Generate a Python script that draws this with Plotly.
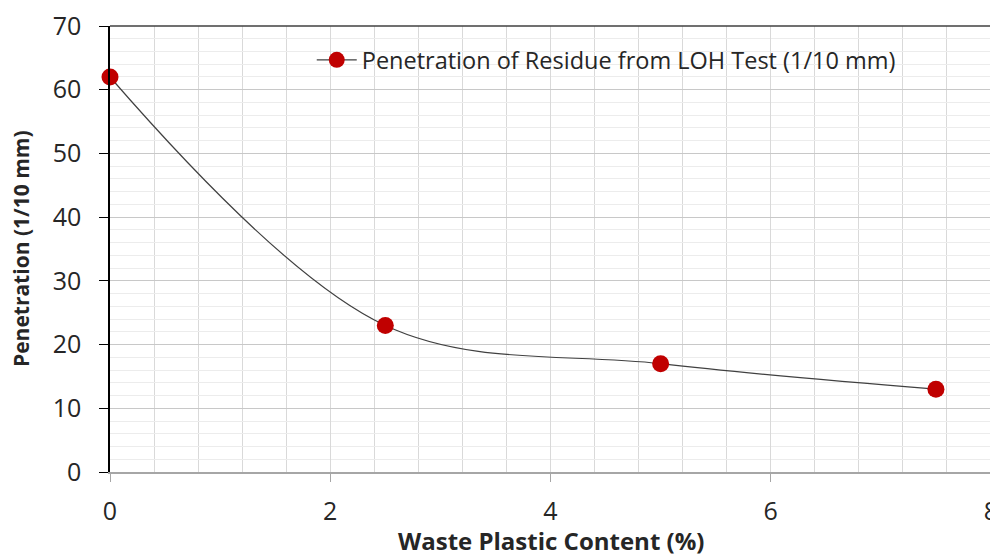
import plotly.graph_objects as go

plastic_content = [0, 2.5, 5, 7.5]
penetration = [62, 23, 17, 13]
series_name = "Penetration of Residue from LOH Test (1/10 mm)"
x_title = "Waste Plastic Content (%)"
y_title = "Penetration (1/10 mm)"

fig = go.Figure()
fig.add_trace(go.Scatter(
    x=plastic_content, y=penetration, mode="lines+markers", name=series_name,
    line=dict(color="#404040", width=1.2, shape="spline", smoothing=1.0),
    marker=dict(color="#C00000", size=17, line=dict(width=0)),
    cliponaxis=False,
))

font_family = "Open Sans, Liberation Sans, sans-serif"
fig.update_layout(
    width=990, height=548,
    margin=dict(l=102, r=7, t=18, b=84, autoexpand=False),
    paper_bgcolor="white", plot_bgcolor="white",
    font=dict(family=font_family, color="#262626"),
    showlegend=True,
    legend=dict(x=0.229, y=0.973, xanchor="left", yanchor="top",
                bgcolor="rgba(0,0,0,0)", font=dict(size=23.5, color="#262626"),
                itemwidth=40),
    xaxis=dict(
        range=[0, 8], dtick=2, tick0=0, automargin=False,
        showgrid=True, gridcolor="#d9d9d9", gridwidth=1,
        minor=dict(dtick=0.4, showgrid=True, gridcolor="#d9d9d9", gridwidth=1),
        showline=True, linecolor="#a6a6a6", linewidth=1.5, mirror=False,
        ticks="outside", ticklen=8, tickcolor="#a6a6a6",
        ticklabelstandoff=8, ticklabeloverflow="allow",
        tickfont=dict(size=25, color="#262626"),
        zeroline=False,
    ),
    yaxis=dict(
        range=[0, 70], dtick=10, tick0=0, automargin=False,
        showgrid=True, gridcolor="#c8c8c8", gridwidth=1,
        minor=dict(dtick=2, showgrid=True, gridcolor="#ececec", gridwidth=1),
        showline=True, linecolor="#000000", linewidth=1.5,
        ticks="outside", ticklen=9, tickcolor="#000000",
        ticklabelstandoff=13, ticklabeloverflow="allow",
        tickfont=dict(size=25, color="#262626"),
        zeroline=False,
    ),
)
fig.add_annotation(text="<b>" + x_title + "</b>", xref="paper", yref="paper",
                   x=0.5, y=-0.153, xanchor="center", yanchor="middle", showarrow=False,
                   font=dict(size=24, color="#262626"))
fig.add_annotation(text="<b>" + y_title + "</b>", xref="paper", yref="paper",
                   x=-0.101, y=0.5, xanchor="center", yanchor="middle", showarrow=False,
                   textangle=-90, font=dict(size=21, color="#262626"))
# right and top borders of the plot area
fig.add_shape(type="line", xref="paper", yref="paper", x0=1, x1=1, y0=0, y1=1,
              line=dict(color="#000000", width=1.5))
fig.add_shape(type="line", xref="paper", yref="paper", x0=0, x1=1, y0=1, y1=1,
              line=dict(color="#404040", width=1.5))

fig.write_html("out.html")
